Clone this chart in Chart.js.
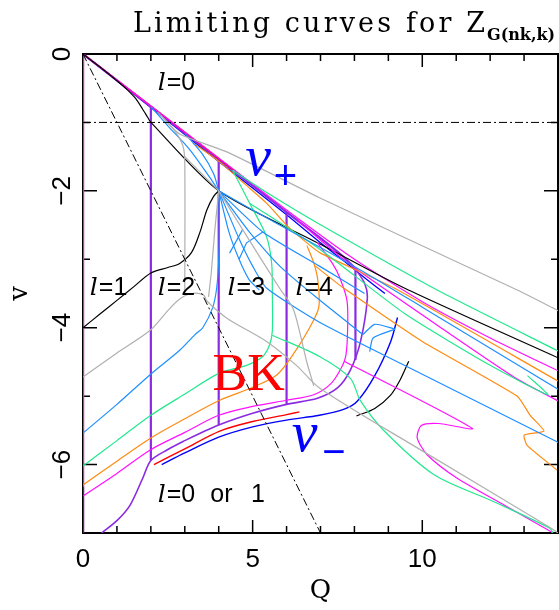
<!DOCTYPE html>
<html><head><meta charset="utf-8">
<script src="https://cdn.jsdelivr.net/npm/chart.js@4"></script>
<style>html,body{margin:0;padding:0;background:#fff;overflow:hidden}canvas{display:block}</style>
</head><body>
<canvas id="c" width="559" height="610"></canvas>
<script>
// ---------- axis ranges / ticks ----------
const X_RANGE = [0, 14];
const Y_RANGE = [-7, 0];
const xTickLabels = [0, 5, 10];
const yTickLabels = [0, -2, -4, -6];

// ---------- curves: [Q, v] points ----------
const axisMagenta = [[0,0],[0,-6.33]];
const axisPurple  = [[0,-6.33],[0,-7]];
const dashDiag  = [[0,0],[7,-7]];
const dashHoriz = [[0,-1],[14,-1]];

// upper envelope bundle (v+)
const envMagenta = [[0,0],[4,-1.52],[6,-2.28],[8,-3.0],[10,-3.62],[12,-4.15],[14,-4.63]];
const envRed     = [[0,0],[2.5,-0.95],[4.5,-1.72]];
const envBlue    = [[0,0],[2,-0.78],[4,-1.57],[6,-2.35],[7,-2.76],[7.7,-3.03],[8.3,-3.27],[8.9,-3.5]];
const envPurple  = [[0,0],[2,-0.77],[4,-1.54],[6,-2.31],[7,-2.69],[7.6,-2.93],[8.0,-3.12]];

// black
const blackL0  = [[0,0],[0.5,-0.19],[1.0,-0.39],[1.3,-0.52],[1.55,-0.65],[1.75,-0.8],[1.9,-0.92],[2,-1],[4,-2],[7,-2.78],[9.47,-3.42],[14,-4.44]];
const blackL1  = [[0,-4],[0.5,-3.8],[1,-3.6],[1.5,-3.4],[2,-3.2],[2.5,-3.12],[2.85,-3.06],[3.2,-2.9],[3.45,-2.6],[3.65,-2.28],[3.85,-2.08],[4,-2]];
const blackArc = [[9.6,-4.49],[9.35,-4.76],[9.06,-4.99],[8.6,-5.18],[8.06,-5.29]];

// gray
const grayTop   = [[2.2,-0.85],[2.85,-1.17],[4.24,-1.43],[6.97,-2.1],[12.8,-3.45],[14,-3.75]];
const grayQ3    = [[2.3,-0.9],[2.7,-1.12],[2.95,-1.35],[3.0,-1.6],[3.0,-3.47]];
const grayLow   = [[0,-4.72],[1,-4.37],[2,-4.03],[2.5,-3.75],[2.85,-3.58],[3.2,-3.5],[3.55,-3.52],[3.65,-3.61],[4.24,-3.86],[5.41,-4.2],[6.29,-4.55],[6.97,-4.88],[10,-5.8],[13.8,-6.93],[14,-7]];
const grayFanA  = [[4,-2],[3.88,-2.6],[3.78,-3.2],[3.7,-3.55]];
const grayFanB  = [[4,-2],[4.9,-2.72],[5.79,-3.42],[6.18,-3.71],[6.38,-4.05],[6.59,-4.49],[6.8,-4.85]];
const grayLink  = [[3,-1.5],[4,-2]];

// light blue
const lblueL3   = [[0,-5.54],[1,-5.12],[1.97,-4.69],[2.85,-4.33],[3.3,-4.1],[3.53,-4.0],[3.82,-3.71],[3.94,-3.42],[4.0,-3.0],[4.02,-2.5],[4,-2]];
const lblueU1   = [[2.0,-0.77],[2.5,-1.05],[3.15,-1.4],[3.73,-1.8],[4,-2]];
const lblueU2   = [[3.0,-1.16],[3.5,-1.45],[3.85,-1.75],[4,-2]];
const lblueF1   = [[4,-2],[5.5,-2.42],[6.97,-2.82],[8.5,-3.25],[10,-3.7],[12,-4.3],[14,-4.9]];
const lblueF2   = [[4,-2],[5.3,-2.6],[6.97,-3.1],[8.3,-3.5]];
const lblueF3   = [[4,-2],[4.9,-2.6],[5.8,-3.1],[6.91,-3.57],[8.25,-4.1]];
const lblueF4   = [[4,-2],[4.6,-2.7],[5.0,-3.1],[5.41,-3.42],[6.97,-3.92],[10,-4.68],[13.94,-5.66],[14,-5.68]];
const lblueF5   = [[4,-2],[4.3,-2.6],[4.6,-3.0],[4.9,-3.3],[5.2,-3.45]];
const lblueT1   = [[4.32,-2.91],[4.7,-2.57]];
const lblueT2   = [[4.6,-3.0],[4.82,-2.76],[5.3,-2.6]];
const lblueY1   = [[8.25,-4.1],[8.6,-3.95],[9.2,-4.02]];
const lblueY2   = [[8.45,-4.35],[8.55,-4.15],[9.2,-4.02]];

// green
const greenLow    = [[0,-6.02],[1,-5.65],[2,-5.28],[3,-4.97],[4.03,-4.66],[4.82,-4.55],[5.3,-4.42],[5.5,-4.25],[5.58,-4.05],[5.58,-3.5],[5.56,-3.06],[5.41,-2.67],[4.91,-2.18],[4.41,-1.7]];
const greenBranch = [[5.58,-4.11],[6.97,-4.42],[7.88,-4.74],[8.18,-5.07],[8.88,-5.51],[10.35,-6.15],[12.1,-6.54],[13.76,-6.93],[13.85,-7]];
const greenTop    = [[4.41,-1.7],[5.5,-2.05],[6.91,-2.47],[10.44,-3.45],[14,-4.34]];
const greenMid    = [[4.91,-2.18],[6.97,-2.85],[9.5,-3.8],[12,-4.55],[13.7,-4.98],[13.1,-4.7]];

// orange
const orangeHook = [[0,-6.3],[1,-5.95],[2,-5.61],[3,-5.33],[4.03,-5.06],[5.0,-4.87],[5.71,-4.69],[6.18,-4.4],[6.68,-4.0],[6.95,-3.7],[6.92,-3.3],[6.8,-3.05],[6.6,-2.8]];
const orangeTop  = [[3.24,-1.3],[4.03,-1.58],[4.82,-1.92],[5.41,-2.18],[6.0,-2.5],[6.6,-2.76],[7,-2.91],[9.17,-3.42],[14,-4.78]];
const orangeLow  = [[6.85,-3.1],[7.68,-3.42],[10,-4.2],[12.8,-5.0],[13.18,-5.28],[13.59,-5.51],[13.0,-5.57],[13.09,-5.72],[13.97,-6.08]];

// magenta
const magentaLow    = [[0,-6.46],[1,-6.13],[1.97,-5.79],[3,-5.53],[4,-5.28],[5,-5.15],[6,-5.06],[6.8,-4.98],[7.3,-4.82],[7.6,-4.6],[7.75,-4.4],[7.8,-4.0],[7.78,-3.6],[7.56,-3.26],[7.35,-3.06],[6.9,-2.75]];
const magentaBranch = [[7.7,-4.49],[11.47,-5.47],[10.47,-5.4],[9.97,-5.43],[9.85,-5.61],[10.15,-5.86],[11.03,-6.2],[12.41,-6.59],[13.76,-6.97],[13.85,-7]];
const magentaRight  = [[6.3,-2.42],[7.8,-3.05],[10.7,-4.05],[12.8,-4.75],[14,-5.07]];

// purple
const purpleQ2  = [[2,-0.77],[2,-5.94]];
const purpleQ4  = [[4,-1.54],[4,-5.42]];
const purpleQ6  = [[6,-2.31],[6,-5.12]];
const purpleQ8  = [[8.03,-3.12],[8.03,-4.47]];
const purpleLow = [[0.55,-7],[1.0,-6.82],[1.38,-6.6],[1.76,-6.2],[2,-5.94],[2.5,-5.78],[3,-5.65],[3.5,-5.53],[4,-5.42],[5,-5.25],[6,-5.12],[6.91,-5.03],[7.5,-4.88],[7.88,-4.62],[8.18,-4.2],[8.38,-3.57],[8.3,-3.35],[8.0,-3.12]];

// lower (v-) curves
const blueMinus = [[2.32,-6.0],[3,-5.83],[4,-5.6],[5,-5.45],[6,-5.35],[6.97,-5.28],[7.7,-5.19],[8.09,-5.07],[8.6,-4.7],[9.07,-4.2],[9.27,-3.85]];
const redLow    = [[2.09,-6.0],[3,-5.77],[4.03,-5.51],[5,-5.37],[6,-5.27],[6.38,-5.23]];

// ---------- styles ----------
const C = {black:'#000000', gray:'#b0b0b0', lblue:'#1e8fff', green:'#22e88e', orange:'#ff8a10',
  magenta:'#ff10ff', purple:'#8a2be2', dblue:'#0000ff', red:'#ff0000'};

const series = [
  [dashDiag, '#000', 1, 0, [8,3,2,3]],
  [dashHoriz, '#000', 1, 0, [8,3,2,3]],
  [grayTop, C.gray, 1.2, 0.2], [grayQ3, C.gray, 1.2, 0.3], [grayLow, C.gray, 1.2, 0.3],
  [grayFanA, C.gray, 1.2, 0.2], [grayFanB, C.gray, 1.2, 0.3], [grayLink, C.gray, 1.2, 0],
  [lblueL3, C.lblue, 1.2, 0.3], [lblueU1, C.lblue, 1.2, 0.3], [lblueU2, C.lblue, 1.2, 0.3],
  [lblueF1, C.lblue, 1.2, 0.2], [lblueF2, C.lblue, 1.2, 0.2], [lblueF3, C.lblue, 1.2, 0.2],
  [lblueF4, C.lblue, 1.2, 0.2], [lblueF5, C.lblue, 1.2, 0.2], [lblueT1, C.lblue, 1.2, 0],
  [lblueT2, C.lblue, 1.2, 0], [lblueY1, C.lblue, 1.2, 0.2], [lblueY2, C.lblue, 1.2, 0.2],
  [greenLow, C.green, 1.2, 0.3], [greenBranch, C.green, 1.2, 0.3], [greenTop, C.green, 1.2, 0.2], [greenMid, C.green, 1.2, 0.2],
  [orangeHook, C.orange, 1.2, 0.3], [orangeTop, C.orange, 1.2, 0.2], [orangeLow, C.orange, 1.2, 0.15],
  [magentaLow, C.magenta, 1.2, 0.3], [magentaBranch, C.magenta, 1.2, 0.25], [magentaRight, C.magenta, 1.2, 0.2],
  [blackL0, C.black, 1.2, 0.25], [blackL1, C.black, 1.2, 0.3], [blackArc, C.black, 1.2, 0.3],
  [envMagenta, C.magenta, 1.2, 0.2], [envRed, C.red, 1.2, 0],
  [purpleLow, C.purple, 1.6, 0.3],
  [purpleQ2, C.purple, 2.2, 0], [purpleQ4, C.purple, 2.2, 0], [purpleQ6, C.purple, 2.2, 0], [purpleQ8, C.purple, 2.2, 0],
  [envPurple, C.purple, 2.2, 0.2], [envBlue, C.dblue, 1.3, 0.2],
  [blueMinus, C.dblue, 1.4, 0.3], [redLow, C.red, 1.4, 0.3],
  [axisMagenta, '#c43aa8', 2.5, 0], [axisPurple, '#880a9a', 2.5, 0]
];

const datasets = series.map(([pts, color, w, t, dash]) => ({
  data: pts.map(p => ({x: p[0], y: p[1]})),
  showLine: true, borderColor: color, borderWidth: w, tension: t,
  borderDash: dash || [], pointRadius: 0, pointHoverRadius: 0, fill: false
}));

// ---------- plugins ----------
const framePlugin = {
  id: 'frame',
  beforeDatasetsDraw(chart) {
    const {ctx, chartArea: a, scales: {x, y}} = chart;
    ctx.save();
    ctx.strokeStyle = '#000'; ctx.lineWidth = 2;
    ctx.strokeRect(a.left, a.top, a.right - a.left, a.bottom - a.top);
    ctx.lineWidth = 1.5;
    ctx.beginPath();
    for (let q = X_RANGE[0]; q <= X_RANGE[1]; q++) {
      const px = x.getPixelForValue(q), L = (q % 5 === 0) ? 13 : 7;
      ctx.moveTo(px, a.bottom); ctx.lineTo(px, a.bottom - L);
      ctx.moveTo(px, a.top); ctx.lineTo(px, a.top + L);
    }
    for (let v = Y_RANGE[0]; v <= Y_RANGE[1]; v++) {
      const py = y.getPixelForValue(v), L = (v % 2 === 0) ? 14 : 7;
      ctx.moveTo(a.left, py); ctx.lineTo(a.left + L, py);
      ctx.moveTo(a.right, py); ctx.lineTo(a.right - L, py);
    }
    ctx.stroke();
    ctx.restore();
  }
};

function spacedText(ctx, text, x0, y0, targetWidth) {
  const chars = Array.from(text);
  const natural = chars.reduce((s, ch) => s + ctx.measureText(ch).width, 0);
  const gap = chars.length > 1 ? Math.max(0, (targetWidth - natural) / (chars.length - 1)) : 0;
  let px = x0;
  chars.forEach(ch => { ctx.fillText(ch, px, y0); px += ctx.measureText(ch).width + gap; });
  return px - gap;
}

function lLabel(ctx, x, y, q, v, rest, size) {
  const px = x.getPixelForValue(q), py = y.getPixelForValue(v);
  ctx.font = 'italic ' + size + 'px "DejaVu Serif"';
  ctx.fillText('l', px, py);
  const w = ctx.measureText('l').width;
  ctx.font = size + 'px "Liberation Sans"';
  ctx.fillText(rest, px + w + 1, py);
}

const textPlugin = {
  id: 'texts',
  afterDatasetsDraw(chart) {
    const {ctx, chartArea: a, scales: {x, y}} = chart;
    ctx.save();
    ctx.fillStyle = '#000';
    ctx.textBaseline = 'alphabetic';
    ctx.textAlign = 'left';
    // title
    ctx.font = '27px "DejaVu Serif"';
    const end = spacedText(ctx, 'Limiting curves for Z', 133, 32, 352);
    ctx.font = 'bold 16px "DejaVu Serif"';
    ctx.fillText('G(nk,k)', end + 2, 40);
    // x tick labels
    ctx.font = '26px "Liberation Sans"';
    ctx.textAlign = 'center';
    xTickLabels.forEach(q => ctx.fillText(String(q), x.getPixelForValue(q), a.bottom + 34));
    // y tick labels (rotated)
    yTickLabels.forEach(v => {
      ctx.save();
      ctx.translate(a.left - 20, y.getPixelForValue(v));
      ctx.rotate(-Math.PI / 2);
      ctx.textBaseline = 'middle';
      ctx.fillText(v === 0 ? '0' : '\u2212' + Math.abs(v), 0, 0);
      ctx.restore();
    });
    // axis titles
    ctx.font = '26px "DejaVu Serif"';
    ctx.fillText('Q', (a.left + a.right) / 2, 598);
    ctx.save();
    ctx.translate(20, (a.top + a.bottom) / 2);
    ctx.rotate(-Math.PI / 2);
    ctx.textBaseline = 'middle';
    ctx.fillText('v', 0, 0);
    ctx.restore();
    // l labels
    ctx.textAlign = 'left';
    lLabel(ctx, x, y, 2.2, -0.53, '=0', 25);
    lLabel(ctx, x, y, 0.2, -3.52, '=1', 25);
    lLabel(ctx, x, y, 2.2, -3.52, '=2', 25);
    lLabel(ctx, x, y, 4.26, -3.52, '=3', 25);
    lLabel(ctx, x, y, 6.26, -3.52, '=4', 25);
    lLabel(ctx, x, y, 2.2, -6.54, '=0', 25);
    ctx.font = '25px "Liberation Sans"';
    ctx.fillText('or', x.getPixelForValue(3.75), y.getPixelForValue(-6.54));
    ctx.fillText('1', x.getPixelForValue(4.95), y.getPixelForValue(-6.54));
    // BK
    ctx.fillStyle = '#ff0000';
    ctx.font = '52px "Liberation Serif"';
    ctx.fillText('BK', x.getPixelForValue(3.82), y.getPixelForValue(-4.91));
    // v+ and v-
    ctx.fillStyle = '#0000ff';
    ctx.font = 'italic 58px "Liberation Serif"';
    ctx.fillText('v', x.getPixelForValue(4.78), y.getPixelForValue(-1.77));
    ctx.fillText('v', x.getPixelForValue(6.15), y.getPixelForValue(-5.8));
    ctx.font = '40px "Liberation Sans"';
    ctx.fillText('+', x.getPixelForValue(5.62), y.getPixelForValue(-1.98));
    ctx.fillText('\u2212', x.getPixelForValue(7.05), y.getPixelForValue(-6.0));
    ctx.restore();
  }
};

new Chart(document.getElementById('c'), {
  type: 'scatter',
  data: {datasets},
  options: {
    responsive: false, animation: false, devicePixelRatio: 1,
    layout: {padding: {left: 83, top: 54, right: 1, bottom: 77}},
    plugins: {legend: {display: false}, tooltip: {enabled: false}, title: {display: false}},
    scales: {
      x: {type: 'linear', min: X_RANGE[0], max: X_RANGE[1], display: false},
      y: {type: 'linear', min: Y_RANGE[0], max: Y_RANGE[1], display: false}
    }
  },
  plugins: [framePlugin, textPlugin]
});
</script>
</body></html>
